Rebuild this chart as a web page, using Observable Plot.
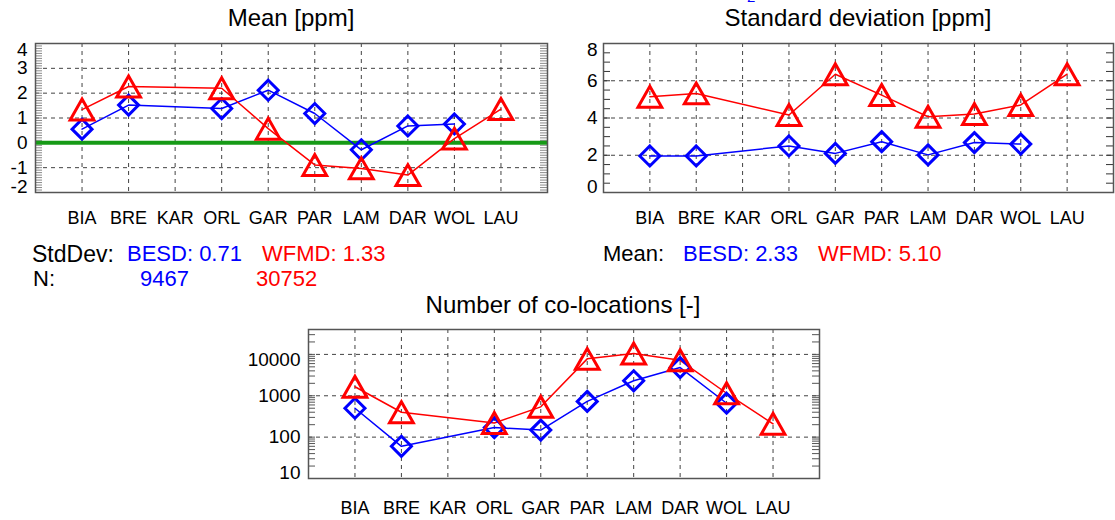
<!DOCTYPE html>
<html><head><meta charset="utf-8">
<script src="https://cdn.jsdelivr.net/npm/d3@7"></script>
<script src="https://cdn.jsdelivr.net/npm/@observablehq/plot@0.6"></script>
<style>
body{margin:0;background:#fff;}
#root{position:relative;width:1115px;height:520px;overflow:hidden;font-family:"Liberation Sans",Arial,sans-serif;color:#000;}
.abs{position:absolute;white-space:nowrap;line-height:1;}
.t{font-size:24px;transform:translateX(-50%);}
.a{font-size:22px;}
.blue{color:#0000ff;} .red{color:#ff0000;}
svg{position:absolute;}
</style></head><body><div id="root"></div>
<script>
// ---- data ----
const stations = ["BIA","BRE","KAR","ORL","GAR","PAR","LAM","DAR","WOL","LAU"];
const meanBESD = [0.55, 1.52, null, 1.38, 2.12, 1.18, -0.28, 0.68, 0.76, null];
const meanWFMD = [1.34, 2.27, null, 2.20, 0.57, -0.89, -1.03, -1.30, 0.17, 1.36];
const stdBESD  = [1.96, 1.96, null, 2.50, 2.10, 2.73, 2.02, 2.68, 2.60, null];
const stdWFMD  = [5.14, 5.32, null, 4.16, 6.35, 5.23, 4.07, 4.21, 4.70, 6.35];
const nBESD    = [500, 60, null, 170, 148, 730, 2300, 4800, 660, null];
const nWFMD    = [1650, 400, null, 220, 540, 7800, 10500, 7200, 1150, 210];
const meanTicks = [4, 3, 2, 1, 0, -1, -2];
const stdTicks = [8, 6, 4, 2, 0];
const nTicks = [10000, 1000, 100, 10];
const summary = {stdBESD: "0.71", stdWFMD: "1.33", nBESD: "9467", nWFMD: "30752", meanBESD: "2.33", meanWFMD: "5.10"};

const FONT = '"Liberation Sans", Arial, sans-serif';
const BLUE = "#0000ff", RED = "#ff0000";
const idx = stations.map((s, i) => i + 1);
const series = vals => vals.map((v, i) => ({x: i + 1, v})).filter(d => d.v != null);

const diamond = {draw(ctx, size) { const s = Math.sqrt(size / Math.PI);
  ctx.moveTo(0, -s); ctx.lineTo(s, 0); ctx.lineTo(0, s); ctx.lineTo(-s, 0); ctx.closePath(); }};
const triangle = {draw(ctx, size) { const s = Math.sqrt(size / Math.PI);
  ctx.moveTo(-s * 1.08, s * 0.95); ctx.lineTo(0, -s * 0.95); ctx.lineTo(s * 1.08, s * 0.95); ctx.closePath(); }};

const root = document.getElementById("root");

function dataMarks(b, r) {
  return [
    Plot.line(series(b), {x: "x", y: "v", stroke: BLUE, strokeWidth: 1.5}),
    Plot.line(series(r), {x: "x", y: "v", stroke: RED, strokeWidth: 1.5}),
    Plot.dot(series(b), {x: "x", y: "v", symbol: diamond, r: 10, stroke: BLUE, strokeWidth: 3, fill: "none"}),
    Plot.dot(series(r), {x: "x", y: "v", symbol: triangle, r: 11, stroke: RED, strokeWidth: 3, fill: "none"})
  ];
}
function sideTicks(vals, pw, stroke, len = 7) {
  return [
    Plot.tickY(vals, {y: d => d, insetRight: pw - len, stroke, strokeWidth: 1}),
    Plot.tickY(vals, {y: d => d, insetLeft: pw - len, stroke, strokeWidth: 1})
  ];
}
function yLabels(ticks, pad, size, fmt = d => String(d)) {
  const mid = ticks.slice(1, -1), top = ticks[0], bot = ticks[ticks.length - 1];
  const o = {tickSize: 0, tickPadding: pad, fontSize: size, fill: "#000", tickFormat: fmt, label: null};
  return [Plot.axisY(mid, o), Plot.axisY([top], {...o, dy: 6}), Plot.axisY([bot], {...o, dy: -6})];
}
const grid = {stroke: "#222", strokeOpacity: 0.85, strokeDasharray: "4,4", strokeWidth: 1};
const xAxis = pad => Plot.axisX(idx, {tickSize: 0, tickPadding: pad, fontSize: 18, fill: "#000", tickFormat: i => stations[i - 1], label: null});

function place(svg, left, top) { svg.style.left = left + "px"; svg.style.top = top + "px"; root.appendChild(svg); }

// ---- Panel 1: Mean ----
const p1 = Plot.plot({
  width: 560, height: 230, marginLeft: 35, marginRight: 13, marginTop: 43, marginBottom: 38,
  style: {fontFamily: FONT, background: "transparent", overflow: "visible"},
  x: {type: "linear", domain: [0, 11]}, y: {domain: [-2, 4], label: null},
  marks: [
    Plot.gridX(idx, grid),
    Plot.gridY([3, 2, 1, -1], grid),
    ...sideTicks(d3.range(-20, 41).map(v => v / 10), 512, "#8a8a8a"),
    Plot.ruleY([0], {stroke: "#169a16", strokeWidth: 4}),
    Plot.frame({stroke: "#555", strokeWidth: 1.5}),
    ...yLabels(meanTicks, 8, 19),
    xAxis(19),
    ...dataMarks(meanBESD, meanWFMD)
  ]
});
place(p1, 0, 0);

// ---- Panel 2: Standard deviation ----
const p2 = Plot.plot({
  width: 555, height: 230, marginLeft: 43, marginRight: 2, marginTop: 43, marginBottom: 38,
  style: {fontFamily: FONT, background: "transparent", overflow: "visible"},
  x: {type: "linear", domain: [0, 11]}, y: {domain: [0, 8], label: null},
  marks: [
    Plot.gridX(idx, grid),
    Plot.gridY([2, 4, 6], grid),
    ...sideTicks(d3.range(0, 17).map(v => v / 2), 510, "#333"),
    Plot.frame({stroke: "#555", strokeWidth: 1.5}),
    ...yLabels(stdTicks, 6, 19),
    xAxis(19),
    ...dataMarks(stdBESD, stdWFMD)
  ]
});
place(p2, 560, 0);

// ---- Panel 3: Number of co-locations ----
const logMinor = [];
for (const d of [10, 100, 1000, 10000]) for (let k = 1; k <= 9; k++) if (d * k <= 40000) logMinor.push(d * k);
const p3 = Plot.plot({
  width: 610, height: 220, marginLeft: 78, marginRight: 21, marginTop: 29, marginBottom: 42,
  style: {fontFamily: FONT, background: "transparent", overflow: "visible"},
  x: {type: "linear", domain: [0, 11]}, y: {type: "log", domain: [10, 40000], label: null},
  marks: [
    Plot.gridX(idx, grid),
    Plot.gridY([100, 1000, 10000], grid),
    ...sideTicks(logMinor, 511, "#555"),
    Plot.frame({stroke: "#555", strokeWidth: 1.5}),
    ...yLabels(nTicks, 8, 19),
    xAxis(23),
    ...dataMarks(nBESD, nWFMD)
  ]
});
place(p3, 230, 300);

// ---- texts ----
function txt(html, cls, left, top) {
  const d = document.createElement("div"); d.className = "abs " + cls; d.innerHTML = html;
  d.style.left = left + "px"; d.style.top = top + "px"; root.appendChild(d); return d;
}
txt("Mean [ppm]", "t", 291, 6);
txt("Standard deviation [ppm]", "t", 858, 6);
txt("Number of co-locations [-]", "t", 563, 293);
txt("2", "blue", 747, -11).style.fontSize = "15px";
txt("StdDev:", "a", 32, 243).style.fontSize = "23px";
txt("BESD: " + summary.stdBESD, "a blue", 127, 243);
txt("WFMD: " + summary.stdWFMD, "a red", 262, 243);
txt("N:", "a", 33, 268);
txt(summary.nBESD, "a blue", 140, 268);
txt(summary.nWFMD, "a red", 256, 268);
txt("Mean:", "a", 603, 243);
txt("BESD: " + summary.meanBESD, "a blue", 683, 243);
txt("WFMD: " + summary.meanWFMD, "a red", 818, 243);
</script></body></html>
